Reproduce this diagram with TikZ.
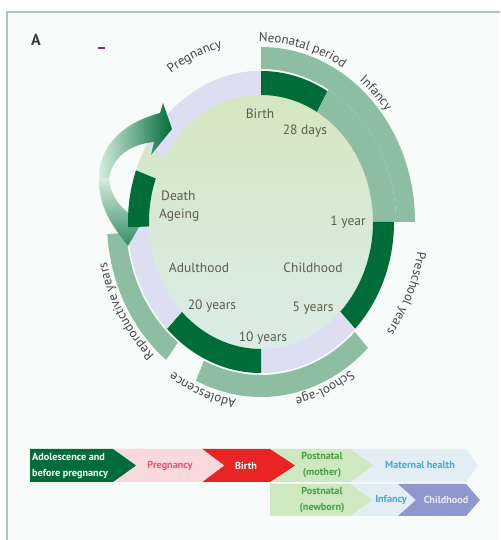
\documentclass[tikz,border=0pt]{standalone}
\usepackage{fontspec}
\setmainfont{PT Sans}
\usetikzlibrary{calc,decorations.text}

\definecolor{dkgreen}{RGB}{0,108,56}
\definecolor{midgreen}{RGB}{142,190,162}
\definecolor{lav}{RGB}{221,222,241}
\definecolor{disktop}{RGB}{212,230,190}
\definecolor{diskbot}{RGB}{219,237,233}
\definecolor{bgmint}{RGB}{247,251,249}
\definecolor{frameline}{RGB}{178,196,186}
\definecolor{labgray}{RGB}{92,92,78}
\definecolor{arcgray}{RGB}{72,68,78}
\definecolor{panelgray}{RGB}{60,60,60}
\definecolor{dashpurple}{RGB}{120,40,190}
\definecolor{ribbonlight}{RGB}{214,236,224}
\definecolor{ribbonmid}{RGB}{52,140,98}
\definecolor{pinkfill}{RGB}{248,218,221}
\definecolor{pinktext}{RGB}{236,84,108}
\definecolor{birthred}{RGB}{232,36,36}
\definecolor{pnfill}{RGB}{206,232,192}
\definecolor{pntext}{RGB}{70,160,70}
\definecolor{palefill}{RGB}{226,238,244}
\definecolor{bluetext}{RGB}{72,166,214}
\definecolor{childfill}{RGB}{142,152,206}
\definecolor{childtext}{RGB}{232,236,252}

% ring segment: colour, start angle, end angle, inner rx, inner ry, outer rx, outer ry
\newcommand\ringseg[7]{%
  \fill[#1] ($(C)+(#2:#6pt and #7pt)$)
    arc[start angle=#2,end angle=#3,x radius=#6pt,y radius=#7pt]
    -- ($(C)+(#3:#4pt and #5pt)$)
    arc[start angle=#3,end angle=#2,x radius=#4pt,y radius=#5pt] -- cycle;}

% label set along the outer ellipse, read clockwise
\newcommand\arclabel[3]{%
  \path[decorate,decoration={text along path,text align=center,
      text color=arcgray,text={|\fontsize{13}{14}\selectfont|#3}}]
    ($(C)+(#1:158.4pt and 180pt)$)
    arc[start angle=#1,end angle=#2,x radius=158.4pt,y radius=180pt];}

\begin{document}
\begin{tikzpicture}[x=1pt,y=1pt,
  inlab/.style={font=\fontsize{13.5}{15}\selectfont,text=labgray,inner sep=0pt},
  barlab/.style={font=\bfseries\fontsize{10.2}{16}\selectfont,inner sep=0pt,align=center}]
\useasboundingbox (0,0) rectangle (500,540);
\fill[white] (0,0) rectangle (500,540);
\fill[bgmint] (7,0) rectangle (500,528);
\draw[frameline,line width=1.3pt] (7,0) -- (7,528) -- (500,528);

\node[font=\bfseries\fontsize{16}{16}\selectfont,text=panelgray,inner sep=0pt] (panel) at (36,500) {A};
\draw[dashpurple,line width=1.3pt] (98,492) -- (105,492);

\coordinate (C) at (261,318);

% central disk
\shade[top color=disktop,bottom color=diskbot] (C) ellipse[x radius=133,y radius=151];

% inner ring
\ringseg{lav}{90}{150}{112}{127}{133}{151}
\ringseg{dkgreen}{60}{90}{112}{127}{133}{151}
\ringseg{midgreen}{0}{60}{112}{127}{135}{153}
\ringseg{dkgreen}{-45}{0}{112}{127}{133}{151}
\ringseg{lav}{-90}{-45}{112}{127}{133}{151}
\ringseg{dkgreen}{-135}{-90}{112}{127}{133}{151}
\ringseg{lav}{180}{225}{112}{127}{133}{151}

% outer ring
\ringseg{midgreen}{0}{90}{135}{153}{154}{175}
\ringseg{midgreen}{-115}{-46}{135}{153}{154}{175}
\ringseg{midgreen}{184}{232}{135}{153}{154}{175}

% curved return arrow (twisted ribbon): upper arc with head, then lower tail
\shade[left color=ribbonlight,middle color=ribbonmid,right color=dkgreen]
  (99,362) to[out=90,in=195] (160,427)
  -- (163,437) -- (172,411) -- (151,385) -- (154,398)
  to[out=185,in=80] (109,362) -- cycle;
\shade[top color=ribbonlight,bottom color=ribbonmid]
  (128,294) to[out=128,in=-90] (99,362) -- (109,362)
  to[out=-85,in=150] (142,318) -- cycle;
\ringseg{dkgreen}{160}{182}{112}{127}{133}{151}

% labels inside the circle
\node[inlab] (birth) at (260,426) {Birth};
\node[inlab] (days) at (305,409) {28 days};
\node[inlab,anchor=west] (death) at (161,344) {Death};
\node[inlab,anchor=west] (ageing) at (159,325) {Ageing};
\node[inlab] (oneyear) at (348,318) {1 year};
\node[inlab] (adult) at (199,272) {Adulthood};
\node[inlab] (child) at (313,272) {Childhood};
\node[inlab] (twenty) at (212,234) {20 years};
\node[inlab] (five) at (313,232) {5 years};
\node[inlab] (ten) at (263,202) {10 years};

% labels around the circle
\arclabel{138}{90}{Pregnancy}
\arclabel{100}{50}{Neonatal period}
\arclabel{62}{28}{Infancy}
\arclabel{8}{-56}{Preschool years}
\arclabel{-42}{-92}{School-age}
\arclabel{-88}{-134}{Adolescence}
\arclabel{244}{178}{Reproductive years}

% timeline chevrons
\fill[palefill] (345,91) -- (466,91) -- (478,74.5) -- (466,58) -- (345,58) -- cycle;
\fill[palefill] (345,56) -- (405,56) -- (420,40) -- (405,24) -- (345,24) -- cycle;
\fill[childfill] (398,56) -- (466,56) -- (480,40) -- (466,24) -- (398,24) -- (416,40) -- cycle;
\fill[pnfill] (272,91) -- (350,91) -- (373,74.5) -- (350,58) -- (272,58) -- cycle;
\fill[pnfill] (270,56) -- (350,56) -- (372,40) -- (350,24) -- (270,24) -- cycle;
\fill[birthred] (202,91) -- (270,91) -- (295,74.5) -- (270,58) -- (202,58) -- (224,74.5) -- cycle;
\fill[pinkfill] (113,91) -- (202,91) -- (224,74.5) -- (202,58) -- (113,58) -- cycle;
\fill[dkgreen] (30,91) -- (113,91) -- (136,74.5) -- (113,58) -- (30,58) -- cycle;

\node[barlab,text=white,anchor=west,align=left] (adol) at (32,74.5) {Adolescence and\\before pregnancy};
\node[barlab,text=pinktext] (preg) at (170,74.5) {Pregnancy};
\node[barlab,text=white] (birthbar) at (246,74.5) {Birth};
\node[barlab,text=pntext] (pnmother) at (322,74.5) {Postnatal\\(mother)};
\node[barlab,text=bluetext] (maternal) at (420,74.5) {Maternal health};
\node[barlab,text=pntext] (pnnewborn) at (322,40) {Postnatal\\(newborn)};
\node[barlab,text=bluetext] (infancybar) at (391,40) {Infancy};
\node[barlab,text=childtext] (childbar) at (446,40) {Childhood};
\end{tikzpicture}
\end{document}
